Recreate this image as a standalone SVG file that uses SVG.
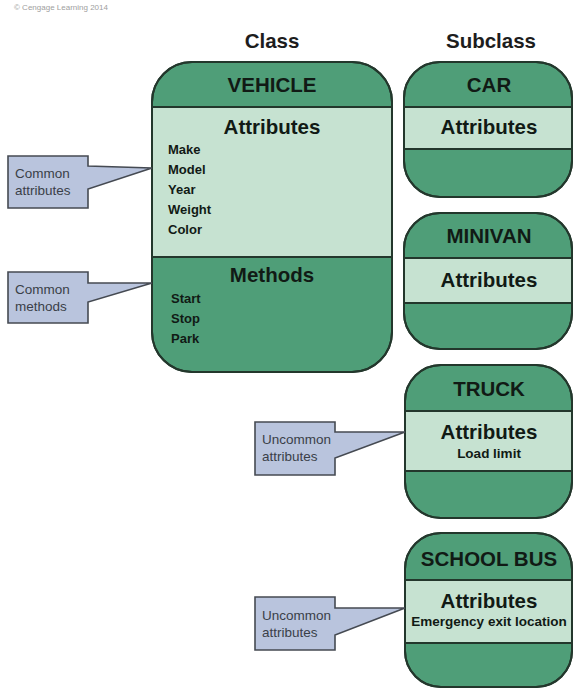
<svg xmlns="http://www.w3.org/2000/svg" width="575" height="692" viewBox="0 0 575 692">
  <style>
    .box { fill: #4f9e78; stroke: #23372c; stroke-width: 2; }
    .band { fill: #c6e2d1; stroke: #23372c; stroke-width: 2; }
    .edge { fill: none; stroke: #23372c; stroke-width: 2; }
    .title { font-family: "Liberation Sans", Arial, sans-serif; font-weight: bold; font-size: 20.5px; fill: #111a15; text-anchor: middle; }
    .item { font-family: "Liberation Sans", Arial, sans-serif; font-weight: bold; font-size: 13px; fill: #111a15; }
    .note { font-family: "Liberation Sans", Arial, sans-serif; font-weight: bold; font-size: 13.5px; fill: #111a15; text-anchor: middle; }
    .callout { fill: #b9c4dd; stroke: #454a52; stroke-width: 1.6; stroke-linejoin: miter; }
    .ctext { font-family: "Liberation Sans", Arial, sans-serif; font-size: 13.5px; fill: #3a3f48; }
    .head { font-family: "Liberation Sans", Arial, sans-serif; font-weight: bold; font-size: 20.5px; fill: #1d1d1d; text-anchor: middle; }
  </style>

  <rect width="575" height="692" fill="#ffffff"/>

  <text x="14" y="10" font-family="Liberation Sans, Arial, sans-serif" font-size="8" fill="#a0a0a0">© Cengage Learning 2014</text>

  <!-- column headings -->
  <text class="head" x="272" y="48">Class</text>
  <text class="head" x="491" y="48">Subclass</text>

  <!-- base class -->
  <g id="vehicle">
    <rect class="box" x="152" y="62" width="240" height="310" rx="40" ry="40"/>
    <rect class="band" x="152" y="107" width="240" height="150"/>
    <rect class="edge" x="152" y="62" width="240" height="310" rx="40" ry="40"/>
    <text class="title" x="272" y="92">VEHICLE</text>
    <text class="title" x="272" y="134">Attributes</text>
    <text class="item" x="168" y="154">Make</text>
    <text class="item" x="168" y="174">Model</text>
    <text class="item" x="168" y="194">Year</text>
    <text class="item" x="168" y="214">Weight</text>
    <text class="item" x="168" y="234">Color</text>
    <text class="title" x="272" y="282">Methods</text>
    <text class="item" x="171" y="303">Start</text>
    <text class="item" x="171" y="323">Stop</text>
    <text class="item" x="171" y="343">Park</text>
  </g>

  <!-- subclasses -->
  <g id="car">
    <rect class="box" x="404" y="62" width="168" height="135" rx="36" ry="36"/>
    <rect class="band" x="404" y="107" width="168" height="42"/>
    <rect class="edge" x="404" y="62" width="168" height="135" rx="36" ry="36"/>
    <text class="title" x="489" y="92">CAR</text>
    <text class="title" x="489" y="134">Attributes</text>
  </g>

  <g id="minivan">
    <rect class="box" x="404" y="213" width="168" height="136" rx="36" ry="36"/>
    <rect class="band" x="404" y="258" width="168" height="45"/>
    <rect class="edge" x="404" y="213" width="168" height="136" rx="36" ry="36"/>
    <text class="title" x="489" y="243">MINIVAN</text>
    <text class="title" x="489" y="287">Attributes</text>
  </g>

  <g id="truck">
    <rect class="box" x="405" y="365" width="167" height="153" rx="36" ry="36"/>
    <rect class="band" x="405" y="411" width="167" height="60"/>
    <rect class="edge" x="405" y="365" width="167" height="153" rx="36" ry="36"/>
    <text class="title" x="489" y="396">TRUCK</text>
    <text class="title" x="489" y="439">Attributes</text>
    <text class="note" x="489" y="458">Load limit</text>
  </g>

  <g id="school-bus">
    <rect class="box" x="405" y="533" width="167" height="154" rx="36" ry="36"/>
    <rect class="band" x="405" y="580" width="167" height="63"/>
    <rect class="edge" x="405" y="533" width="167" height="154" rx="36" ry="36"/>
    <text class="title" x="489" y="566">SCHOOL BUS</text>
    <text class="title" x="489" y="608">Attributes</text>
    <text class="note" x="489" y="626" font-size="14">Emergency exit location</text>
  </g>

  <!-- callouts, each pointing at the section it describes -->
  <g id="callout-common-attributes">
    <path class="callout" d="M8,156 H88 V166 L152,168 L88,189 V208 H8 Z"/>
    <text class="ctext" x="15" y="178">Common</text>
    <text class="ctext" x="15" y="195">attributes</text>
  </g>

  <g id="callout-common-methods">
    <path class="callout" d="M8,272 H88 V283 L152,283 L88,302 V323 H8 Z"/>
    <text class="ctext" x="15" y="294">Common</text>
    <text class="ctext" x="15" y="311">methods</text>
  </g>

  <g id="callout-truck-attributes">
    <path class="callout" d="M255,422 H335 V432 L405,432 L335,458 V475 H255 Z"/>
    <text class="ctext" x="262" y="444">Uncommon</text>
    <text class="ctext" x="262" y="461">attributes</text>
  </g>

  <g id="callout-bus-attributes">
    <path class="callout" d="M255,597 H335 V608 L405,608 L335,635 V650 H255 Z"/>
    <text class="ctext" x="262" y="620">Uncommon</text>
    <text class="ctext" x="262" y="637">attributes</text>
  </g>
</svg>
